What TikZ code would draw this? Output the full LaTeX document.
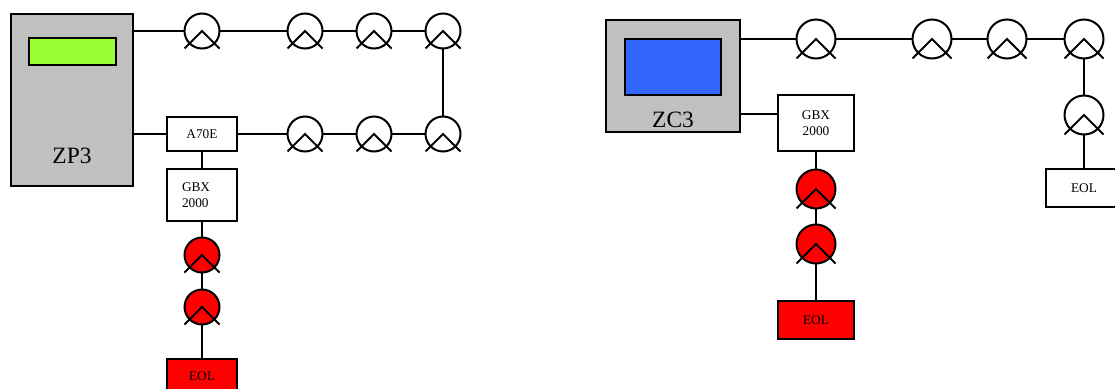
\documentclass[tikz,border=0pt]{standalone}
\usepackage{fontspec}
\setmainfont{Liberation Serif}
\definecolor{panelgray}{HTML}{C0C0C0}
\definecolor{lcdgreen}{HTML}{99FF33}
\definecolor{lcdblue}{HTML}{3366FF}
\tikzset{
  ln/.style={line width=2pt},
  panel/.style={draw,ln,fill=panelgray,inner sep=0pt},
  screen/.style={draw,ln,inner sep=0pt},
  devbox/.style={draw,ln,fill=white,inner sep=0pt,font=\fontsize{13.3}{15.5}\selectfont},
  redbox/.style={devbox,fill=red},
  bigtxt/.style={inner sep=0pt,font=\fontsize{23.4}{26}\selectfont},
  det/.style={circle,draw,ln,fill=white,inner sep=0pt,outer sep=0pt,minimum size=#1},
  reddet/.style={det=#1,fill=red},
}
% detector: circle node plus chevron from its centre
\newcommand{\detector}[5]{%
  \node[#1=#2] (#3) at (#4,#5) {};
  \draw[ln] ([xshift=-#2/2,yshift=-#2/2]#3.center) -- (#3.center) -- ([xshift=#2/2,yshift=-#2/2]#3.center);
}
\begin{document}
\begin{tikzpicture}[x=1pt,y=-1pt]
\useasboundingbox (0,0) rectangle (1115,388);
\clip (0,0) rectangle (1115,388);
% left system
\node[panel,minimum width=122pt,minimum height=172pt] (zp) at (72,100) {};
\node[screen,fill=lcdgreen,minimum width=87pt,minimum height=27pt] (zpscreen) at (72.5,51.5) {};
\node[bigtxt] (zplabel) at (72,156) {ZP3};
\node[devbox,minimum width=70pt,minimum height=34pt] (a70) at (202,134) {A70E};
\node[devbox,minimum height=52pt,inner xsep=15pt,text width=40pt,align=left] (gbxa) at (202,195) {GBX\\2000\\[3pt]};
\node[redbox,minimum width=70pt,minimum height=36pt] (eola) at (202,377) {\raisebox{1pt}{EOL}};
\detector{det}{35pt}{a1}{202}{31}
\detector{det}{35pt}{a2}{305}{31}
\detector{det}{35pt}{a3}{374}{31}
\detector{det}{35pt}{a4}{443}{31}
\detector{det}{35pt}{b1}{305}{134}
\detector{det}{35pt}{b2}{374}{134}
\detector{det}{35pt}{b3}{443}{134}
\detector{reddet}{35pt}{c1}{202}{255}
\detector{reddet}{35pt}{c2}{202}{307}
\draw[ln] (zp.east |- a1) -- (a1.west) (a1.east) -- (a2.west) (a2.east) -- (a3.west) (a3.east) -- (a4.west);
\draw[ln] (a4.south) -- (b3.north);
\draw[ln] (zp.east |- a70) -- (a70.west) (a70.east) -- (b1.west) (b1.east) -- (b2.west) (b2.east) -- (b3.west);
\draw[ln] (a70.south) -- (gbxa.north);
\draw[ln] (gbxa.south) -- (c1.north) (c1.south) -- (c2.north) (c2.south) -- (eola.north);
% right system
\node[panel,minimum width=134pt,minimum height=112pt] (zc) at (673,76) {};
\node[screen,fill=lcdblue,minimum width=96pt,minimum height=56pt] (zcscreen) at (673,67) {};
\node[bigtxt] (zclabel) at (673,119.5) {ZC3};
\node[devbox,minimum width=76pt,minimum height=56pt,align=center] (gbxc) at (816,123) {GBX\\2000};
\node[redbox,minimum width=76pt,minimum height=38pt] (eolc) at (816,320) {EOL};
\node[devbox,minimum width=76pt,minimum height=38pt] (eold) at (1084,188) {EOL};
\detector{det}{39pt}{e1}{816}{39}
\detector{det}{39pt}{e2}{932}{39}
\detector{det}{39pt}{e3}{1007}{39}
\detector{det}{39pt}{e4}{1084}{39}
\detector{det}{39pt}{e5}{1084}{115}
\detector{reddet}{39pt}{f1}{816}{189}
\detector{reddet}{39pt}{f2}{816}{244}
\draw[ln] (zc.east |- e1) -- (e1.west) (e1.east) -- (e2.west) (e2.east) -- (e3.west) (e3.east) -- (e4.west);
\draw[ln] (e4.south) -- (e5.north) (e5.south) -- (eold.north);
\draw[ln] ([yshift=9pt]zc.east |- gbxc) -- ([yshift=9pt]gbxc.west);
\draw[ln] (gbxc.south) -- (f1.north) (f1.south) -- (f2.north) (f2.south) -- (eolc.north);
\end{tikzpicture}
\end{document}
